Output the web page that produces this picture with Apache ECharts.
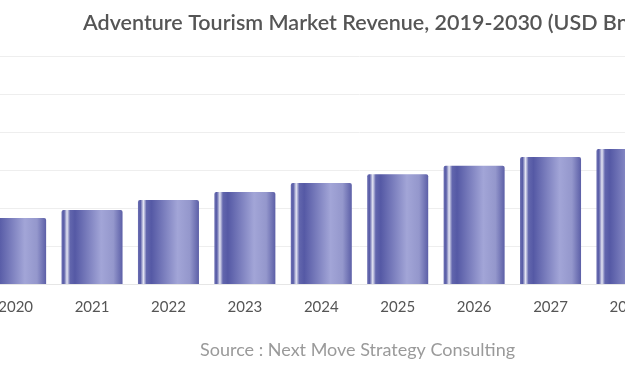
<!DOCTYPE html>
<html lang="en">
<head>
    <meta http-equiv="Content-Type" content="text/html; charset=UTF-8">
    <title>Adventure Tourism Market Revenue</title>
    <script type="text/javascript" src="https://cdn.jsdelivr.net/npm/echarts@6/dist/echarts.min.js"></script>
</head>
<body style="margin:0;width:625px;height:375px;background:#fff;overflow:hidden;position:relative">
<!-- the chart is wider than the window, only its middle part shows -->
<div id="main" style="position:absolute;left:-300px;top:0;width:1200px;height:375px"></div>
<script type="text/javascript">
    // years and revenue (USD Bn)
    var years = ['2019', '2020', '2021', '2022', '2023', '2024', '2025', '2026', '2027', '2028', '2029', '2030'];
    var revenue = [155, 174, 195, 221, 242, 266, 289, 311, 334, 355, 378, 400];
    var yTicks = [0, 100, 200, 300, 400, 500, 600];

    var myChart = echarts.init(document.getElementById('main'));

    // cylinder-like shading across each bar
    var barColor = new echarts.graphic.LinearGradient(0, 0, 1, 0, [
        {offset: 0, color: '#6b6eb2'},
        {offset: 0.04, color: '#585ca6'},
        {offset: 0.09, color: '#e4e5f3'},
        {offset: 0.14, color: '#6266ad'},
        {offset: 0.22, color: '#5559a5'},
        {offset: 0.65, color: '#a2a5d7'},
        {offset: 0.85, color: '#9497cc'},
        {offset: 1, color: '#5c5fa7'}
    ]);

    myChart.setOption({
        animation: false,
        title: {
            text: 'Adventure Tourism Market Revenue, 2019-2030 (USD Bn)',
            left: 378,
            top: 7,
            textStyle: {
                color: '#555',
                fontSize: 21.5,
                fontWeight: 600,
                fontFamily: 'Lato'
            }
        },
        grid: {
            left: 201,
            width: 917,
            top: 56,
            bottom: 91
        },
        xAxis: {
            type: 'category',
            data: years,
            axisLine: {lineStyle: {color: '#e6e6e6'}},
            axisTick: {show: false},
            axisLabel: {
                color: '#555',
                fontSize: 15,
                margin: 16,
                fontFamily: 'Lato'
            }
        },
        yAxis: {
            type: 'value',
            min: yTicks[0],
            max: yTicks[yTicks.length - 1],
            interval: 100,
            axisLabel: {show: false},
            axisLine: {show: false},
            splitLine: {lineStyle: {color: '#eeeeee'}}
        },
        series: [{
            type: 'bar',
            data: revenue,
            barWidth: 61,
            itemStyle: {
                color: barColor,
                borderRadius: [2, 2, 0, 0]
            }
        }],
        graphic: [{
            type: 'text',
            left: 500,
            top: 341,
            style: {
                text: 'Source : Next Move Strategy Consulting',
                fill: '#9a9a9a',
                fontSize: 18,
                fontFamily: 'Lato'
            }
        }]
    });
</script>
</body>
</html>
